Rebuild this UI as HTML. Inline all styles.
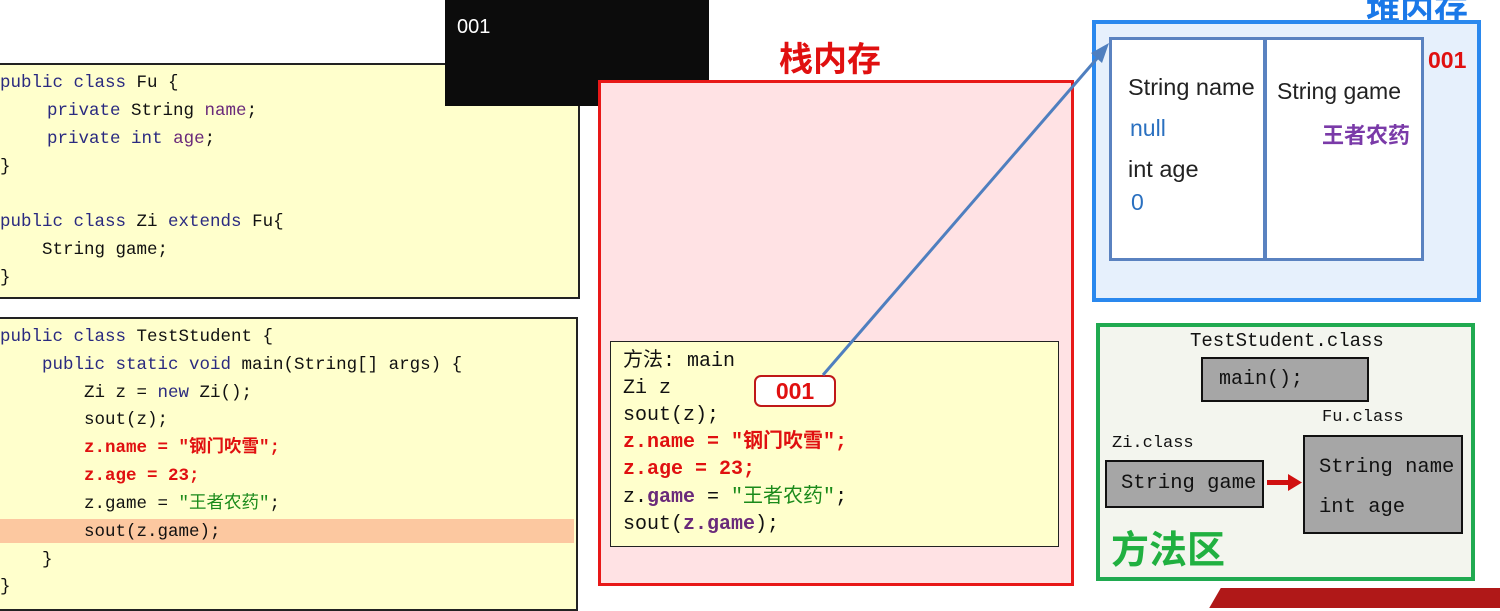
<!DOCTYPE html>
<html><head><meta charset="utf-8"><style>
body{margin:0;width:1500px;height:602px;position:relative;background:#fff;overflow:hidden;font-family:"Liberation Sans","Noto Sans CJK SC",sans-serif}
.a{position:absolute}
.code{font-family:"Liberation Mono","Noto Sans CJK SC",monospace;white-space:pre;color:#111}
.l{position:absolute;left:0;height:28px;line-height:28px}
.kw{color:#2a2a80}.pv{color:#6a2a7a}.red{color:#e01010;font-weight:bold}.grn{color:#1a8a1a}
.gbox{position:absolute;background:#a6a6a6;border:2px solid #111;font-family:"Liberation Mono",monospace;color:#111}
</style></head><body>

<!-- code box 1 -->
<div class="a" style="left:-2px;top:63px;width:578px;height:232px;background:#ffffcc;border:2px solid #222"></div>
<div class="a code" style="left:0;top:69px;font-size:17.5px">
<div class="l" style="top:0"><span class="kw">public class</span> Fu {</div>
<div class="l" style="top:28px;left:5px">    <span class="kw">private</span> String <span class="pv">name</span>;</div>
<div class="l" style="top:56px;left:5px">    <span class="kw">private int</span> <span class="pv">age</span>;</div>
<div class="l" style="top:84px">}</div>
<div class="l" style="top:139px"><span class="kw">public class</span> Zi <span class="kw">extends</span> Fu{</div>
<div class="l" style="top:167px">    String game;</div>
<div class="l" style="top:195px">}</div>
</div>

<!-- code box 2 -->
<div class="a" style="left:-2px;top:317px;width:576px;height:290px;background:#ffffcc;border:2px solid #222"></div>
<div class="a" style="left:0;top:519px;width:574px;height:24px;background:#fcc8a0"></div>
<div class="a code" style="left:0;top:323px;font-size:17.5px">
<div class="l" style="top:0"><span class="kw">public class</span> TestStudent {</div>
<div class="l" style="top:28px">    <span class="kw">public static void</span> main(String[] args) {</div>
<div class="l" style="top:56px">        Zi z = <span class="kw">new</span> Zi();</div>
<div class="l" style="top:83px">        sout(z);</div>
<div class="l" style="top:111px">        <span class="red">z.name = "钢门吹雪";</span></div>
<div class="l" style="top:139px">        <span class="red">z.age = 23;</span></div>
<div class="l" style="top:167px">        z.game = <span class="grn">"王者农药"</span>;</div>
<div class="l" style="top:195px">        sout(z.game);</div>
<div class="l" style="top:223px">    }</div>
<div class="l" style="top:250px">}</div>
</div>

<!-- black box -->
<div class="a" style="left:445px;top:0;width:264px;height:106px;background:#0c0c0c"></div>
<div class="a" style="left:457px;top:16px;color:#fff;font-size:20px">001</div>

<!-- stack -->
<div class="a" style="left:779px;top:32px;color:#e01010;font-size:34px;font-weight:bold">栈内存</div>
<div class="a" style="left:598px;top:80px;width:470px;height:500px;background:#ffe2e4;border:3px solid #e81818"></div>
<div class="a" style="left:610px;top:341px;width:447px;height:204px;background:#ffffcc;border:1.5px solid #222"></div>
<div class="a code" style="left:623px;top:348px;font-size:20px">
<div class="l" style="top:0">方法: main</div>
<div class="l" style="top:27px">Zi z</div>
<div class="l" style="top:54px">sout(z);</div>
<div class="l" style="top:81px"><span class="red">z.name = "钢门吹雪";</span></div>
<div class="l" style="top:108px"><span class="red">z.age = 23;</span></div>
<div class="l" style="top:136px">z.<b class="pv">game</b> = <span class="grn">"王者农药"</span>;</div>
<div class="l" style="top:163px">sout(<b class="pv">z.game</b>);</div>
</div>
<div class="a" style="left:754px;top:375px;width:78px;height:28px;background:#fff;border:2.5px solid #c01818;border-radius:7px;color:#e01010;font-weight:bold;font-size:23px;text-align:center;line-height:28px">001</div>

<!-- heap -->
<div class="a" style="left:1366px;top:-18px;color:#1a78e8;font-size:34px;font-weight:bold">堆内存</div>
<div class="a" style="left:1092px;top:20px;width:381px;height:274px;background:#e6f0fc;border:4px solid #2a88ee"></div>
<div class="a" style="left:1109px;top:37px;width:151px;height:218px;background:#fff;border:3px solid #5a82c0"></div>
<div class="a" style="left:1264px;top:37px;width:154px;height:218px;background:#fff;border:3px solid #5a82c0"></div>
<div class="a" style="left:1428px;top:47px;color:#e01010;font-weight:bold;font-size:23px">001</div>
<div class="a" style="left:1128px;top:74px;font-size:23.5px;color:#222">String name</div>
<div class="a" style="left:1130px;top:115px;font-size:23px;color:#2a70c0">null</div>
<div class="a" style="left:1128px;top:156px;font-size:23.5px;color:#222">int age</div>
<div class="a" style="left:1131px;top:189px;font-size:23px;color:#2a70c0">0</div>
<div class="a" style="left:1277px;top:78px;font-size:23px;color:#222">String game</div>
<div class="a" style="left:1322px;top:118px;font-size:22px;color:#7a3aa8;font-weight:bold">王者农药</div>

<!-- method area -->
<div class="a" style="left:1096px;top:323px;width:371px;height:250px;background:#f3f5ee;border:4px solid #20aa50"></div>
<div class="a" style="left:1190px;top:330px;font-family:'Liberation Mono',monospace;font-size:19px;color:#111">TestStudent.class</div>
<div class="gbox" style="left:1201px;top:357px;width:168px;height:45px;font-size:20px;line-height:41px;padding-left:16px;box-sizing:border-box">main();</div>
<div class="a" style="left:1322px;top:408px;font-family:'Liberation Mono',monospace;font-size:17px;color:#111">Fu.class</div>
<div class="a" style="left:1112px;top:434px;font-family:'Liberation Mono',monospace;font-size:17px;color:#111">Zi.class</div>
<div class="gbox" style="left:1105px;top:460px;width:159px;height:48px;box-sizing:border-box;font-size:20.5px;line-height:44px;padding-left:14px">String game</div>
<div class="gbox" style="left:1303px;top:435px;width:160px;height:99px;box-sizing:border-box;font-size:20.5px;padding-left:14px">
<div style="position:absolute;left:14px;top:19px">String name</div>
<div style="position:absolute;left:14px;top:59px">int age</div></div>
<div class="a" style="left:1111px;top:527px;color:#20b040;font-size:38px;font-weight:bold;line-height:48px">方法区</div>

<!-- connectors -->
<svg class="a" style="left:0;top:0" width="1500" height="602">
<line x1="823" y1="375" x2="1100" y2="55" stroke="#4f7fbf" stroke-width="3"/>
<polygon points="1109,43 1091,53 1102,63" fill="#4f7fbf"/>
<rect x="1267" y="480" width="22" height="5" fill="#d01010"/>
<polygon points="1288,474 1302,482.5 1288,491" fill="#d01010"/>
</svg>

<!-- bottom banner -->
<div class="a" style="left:1215px;top:588px;width:300px;height:20px;background:#b01818;transform:skewX(-30deg)"></div>
</body></html>
